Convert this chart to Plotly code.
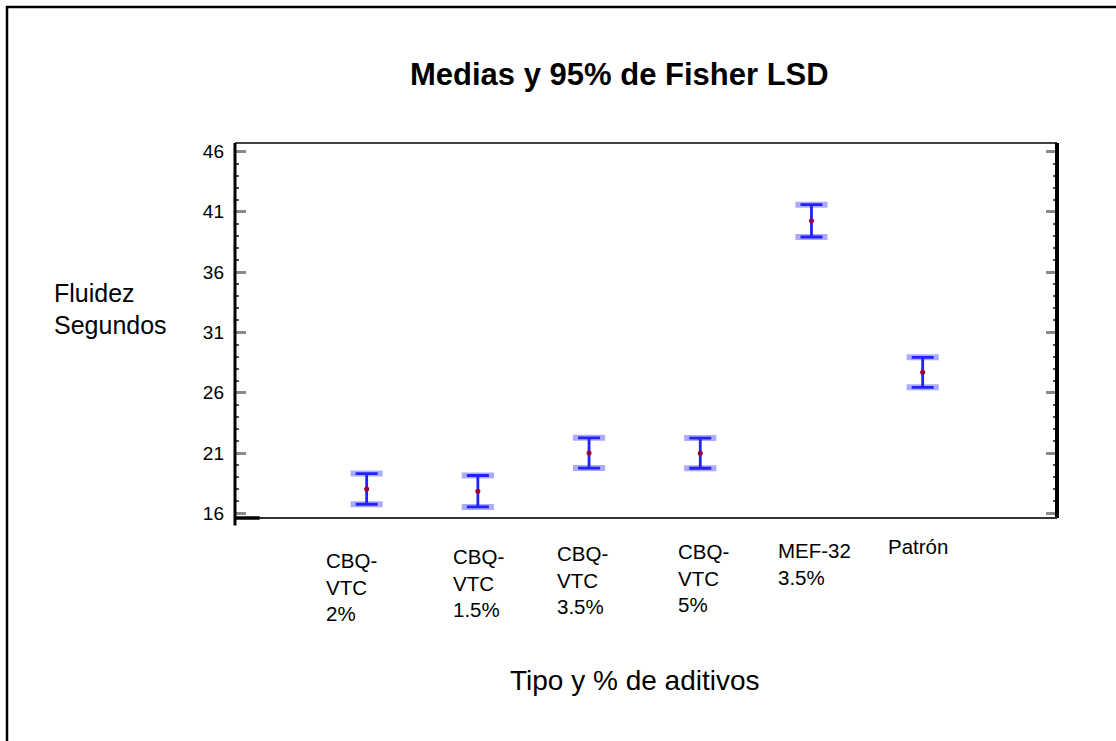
import plotly.graph_objects as go

# ---- data ----
categories = ["CBQ-VTC 2%", "CBQ-VTC 1.5%", "CBQ-VTC 3.5%", "CBQ-VTC 5%", "MEF-32 3.5%", "Patrón"]
label_lines = [["CBQ-", "VTC", "2%"], ["CBQ-", "VTC", "1.5%"], ["CBQ-", "VTC", "3.5%"],
               ["CBQ-", "VTC", "5%"], ["MEF-32", "3.5%"], ["Patrón"]]
means = [18.04, 17.85, 21.02, 21.00, 40.25, 27.70]
lsd_half = [1.27, 1.30, 1.25, 1.25, 1.34, 1.24]
y_ticks = [16, 21, 26, 31, 36, 41, 46]

title_text = "Medias y 95% de Fisher LSD"
x_title = "Tipo y % de aditivos"
y_title_lines = ["Fluidez", "Segundos"]

# ---- layout helpers ----
W, H = 1116, 741
L, R, T, B = 235, 59, 143, 223
pw, ph = W - L - R, H - T - B

def px_x(px):
    return (px - L) / pw

def px_y(py):
    return (H - B - py) / ph

xs = list(range(len(categories)))
upper = [m + e for m, e in zip(means, lsd_half)]
lower = [m - e for m, e in zip(means, lsd_half)]

fig = go.Figure()
# light thick caps
fig.add_trace(go.Scatter(
    x=xs + xs, y=upper + lower, mode="markers",
    marker=dict(symbol="line-ew", size=23, line=dict(width=6, color="rgba(90,90,255,0.5)")),
    hoverinfo="skip", showlegend=False))
# interval bars
fig.add_trace(go.Scatter(
    x=xs, y=means, mode="markers",
    error_y=dict(type="data", array=lsd_half, visible=True, color="#2222ff", thickness=2.8, width=11),
    marker=dict(size=5, color="#a0002a"),
    customdata=categories, hovertemplate="%{customdata}: %{y:.2f}<extra></extra>",
    showlegend=False))

font_main = "Liberation Sans, Arial, sans-serif"

annotations = []
annotations.append(dict(text="<b>" + title_text + "</b>", xref="paper", yref="paper",
                        x=px_x(619), y=px_y(74), xanchor="center", yanchor="middle",
                        showarrow=False, font=dict(family=font_main, size=31, color="black")))
annotations.append(dict(text=x_title, xref="paper", yref="paper",
                        x=px_x(635), y=px_y(680), xanchor="center", yanchor="middle",
                        showarrow=False, font=dict(family=font_main, size=28, color="black")))
for i, (txt, cy) in enumerate(zip(y_title_lines, [293, 325])):
    annotations.append(dict(text=txt, xref="paper", yref="paper",
                            x=px_x(52), y=px_y(cy), xanchor="left", yanchor="middle",
                            showarrow=False, font=dict(family=font_main, size=25, color="black")))

label_xshift = [-43, -27, -34, -24, -35, -37]
label_yshift = [-29, -25, -22, -20, -19, -15]
for i, lines in enumerate(label_lines):
    annotations.append(dict(text="<br>".join(lines), xref="x", yref="paper",
                            x=xs[i], y=0, xanchor="left", yanchor="top", align="left",
                            xshift=label_xshift[i], yshift=label_yshift[i],
                            showarrow=False, font=dict(family=font_main, size=20.5, color="black")))

shapes = [
    # plot frame
    dict(type="line", xref="paper", yref="paper", x0=0, x1=0, y0=-0.02, y1=1, line=dict(color="black", width=3)),
    dict(type="line", xref="paper", yref="paper", x0=1, x1=1, y0=0, y1=1, line=dict(color="black", width=4)),
    dict(type="line", xref="paper", yref="paper", x0=0, x1=1, y0=1, y1=1, line=dict(color="black", width=1.5)),
    dict(type="line", xref="paper", yref="paper", x0=0, x1=1, y0=0, y1=0, line=dict(color="#333333", width=2)),
    dict(type="line", xref="paper", yref="paper", x0=0, x1=0.03, y0=0, y1=0, line=dict(color="black", width=3.5)),
    # outer border (left and top only)
    dict(type="line", xref="paper", yref="paper", x0=px_x(7), x1=px_x(7), y0=px_y(6), y1=px_y(745),
         line=dict(color="black", width=2.5)),
    dict(type="line", xref="paper", yref="paper", x0=px_x(6), x1=px_x(1120), y0=px_y(7), y1=px_y(7),
         line=dict(color="black", width=2.5)),
]

fig.update_layout(
    width=W, height=H,
    margin=dict(l=L, r=R, t=T, b=B, pad=0),
    paper_bgcolor="white", plot_bgcolor="white",
    showlegend=False,
    annotations=annotations, shapes=shapes,
    xaxis=dict(range=[-1.184, 6.208], showgrid=False, zeroline=False, showline=False,
               showticklabels=False, ticks=""),
    yaxis=dict(range=[15.63, 46.7], showgrid=False, zeroline=False, showline=False,
               tickmode="array", tickvals=y_ticks, ticktext=[str(v) for v in y_ticks],
               ticks="inside", ticklen=11, tickwidth=3, tickcolor="#8a8a8a", mirror="ticks",
               ticklabelstandoff=10,
               tickfont=dict(family=font_main, size=19, color="black"),
               minor=dict(dtick=1, tick0=16, ticks="inside", ticklen=4, tickwidth=2, tickcolor="#555555")),
)

fig.write_html("out.html", config={"displayModeBar": False},
               post_script="document.body.style.margin='0';")
